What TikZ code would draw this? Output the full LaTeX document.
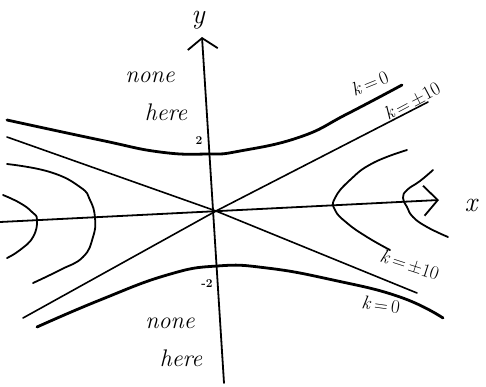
\documentclass[tikz,border=0pt]{standalone}
\usepackage{fontspec}
\usetikzlibrary{arrows.meta}
\begin{document}
\begin{tikzpicture}[x=1pt,y=-1pt,
  axis/.style={line width=1.8pt, line cap=round},
  asym/.style={line width=1.6pt, line cap=round},
  kzero/.style={line width=2.8pt, line cap=round, line join=round},
  branch/.style={line width=1.8pt, line cap=round, line join=round},
  axlbl/.style={font=\fontsize{28}{28}\selectfont\itshape, inner sep=0pt},
  txt/.style={font=\fontsize{24}{24}\selectfont\itshape, inner sep=0pt},
  klbl/.style={font=\fontsize{19}{19}\selectfont, inner sep=0pt},
  tick/.style={font=\fontsize{12}{12}\selectfont\bfseries, inner sep=0pt}]
\useasboundingbox (0,0) rectangle (486,386);
% axes
\coordinate (O) at (216,211);
\coordinate (xs) at (0,222);
\coordinate (xe) at (439,200);
\coordinate (ys) at (224,383);
\coordinate (ye) at (202,37);
\draw[axis,-{Straight Barb[length=14pt,width=30pt]}] (xs) -- (xe);
\draw[axis,-{Straight Barb[length=11pt,width=30pt]}] (ys) -- (ye);
\node[axlbl] (ylab) at (198,20) {y};
\node[axlbl] (xlab) at (471,205) {x};
% asymptotes
\coordinate (a1) at (7,137);
\coordinate (a2) at (417,293);
\coordinate (b1) at (23,318);
\coordinate (b2) at (428,102);
\draw[asym] (a1) -- (O) -- (a2);
\draw[asym] (b1) -- (O) -- (b2);
% k=0 branches
\draw[kzero] plot[smooth,tension=0.8] coordinates {(7,120) (100,140) (160,152) (208,154) (240,151) (300,137) (347,114) (402,85)};
\draw[kzero] plot[smooth,tension=0.8] coordinates {(37,327) (100,300) (167,275) (217,266) (267,268) (333,280) (400,297) (443,318)};
% left/right branches
\draw[branch] plot[smooth,tension=0.8] coordinates {(7,164) (50,172) (80,187) (90,200) (95,218) (93,237) (83,257) (60,270) (33,283)};
\draw[branch] plot[smooth,tension=0.8] coordinates {(3,195) (20,203) (32,212) (37,220) (33,237) (20,250) (7,258)};
\draw[branch] plot[smooth,tension=0.8] coordinates {(407,150) (373,163) (350,180) (335,198) (335,210) (347,223) (367,237) (390,250)};
\draw[branch] plot[smooth,tension=0.8] coordinates {(433,170) (420,181) (407,190) (403,198) (407,207) (413,217) (427,227) (448,237)};
% tick labels
\node[tick] (two) at (199,141) {2};
\node[tick] (mtwo) at (207,284) {-2};
% k labels
\node[klbl, rotate=22] (k0u) at (370,83) {\textit{k}\,=\,0};
\node[klbl, rotate=28] (k10u) at (412,101) {\textit{k}\,=\,±10};
\node[klbl, rotate=-18] (k10l) at (410,265) {\textit{k}\,=\,±10};
\node[klbl, rotate=-8] (k0l) at (381,305) {\textit{k}\,=\,0};
% none here
\node[txt] (n1) at (150,77) {none};
\node[txt] (h1) at (166,112) {here};
\node[txt] (n2) at (170,323) {none};
\node[txt] (h2) at (181,358) {here};
\end{tikzpicture}
\end{document}
